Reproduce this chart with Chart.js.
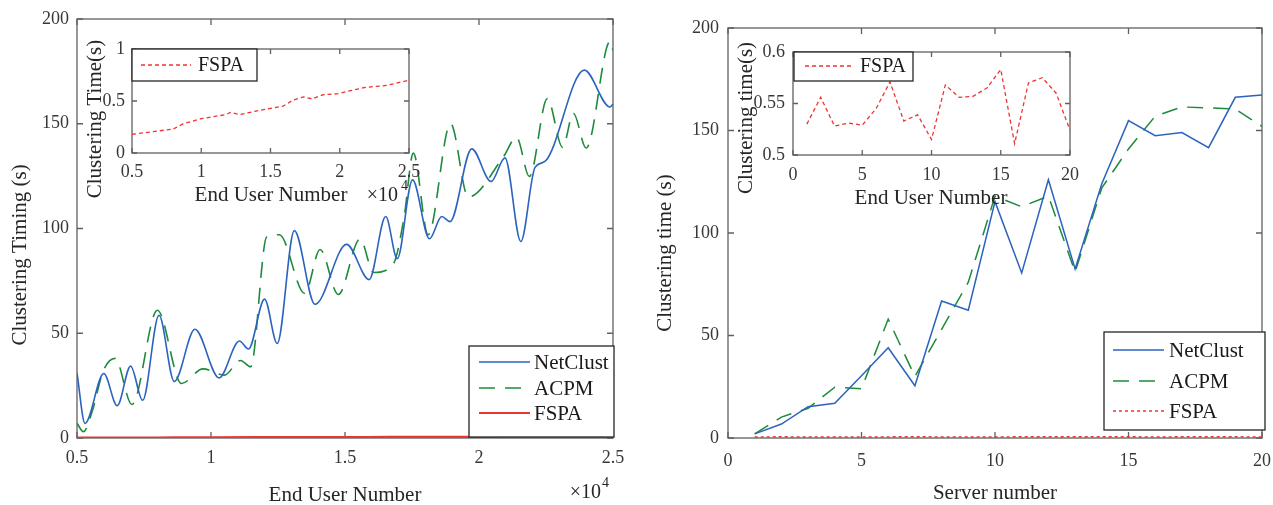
<!DOCTYPE html>
<html>
<head>
<meta charset="utf-8">
<script src="https://cdn.jsdelivr.net/npm/chart.js@4.4.1/dist/chart.umd.min.js"></script>
<style>
  html, body { margin: 0; padding: 0; background: #fff; }
  #wrap { position: relative; width: 1273px; height: 505px; overflow: hidden; }
  canvas { position: absolute; }
</style>
</head>
<body>
<div id="wrap">
  <canvas id="mainL" width="640" height="505" style="left:0px;top:0px"></canvas>
  <canvas id="insetL" width="360" height="190" style="left:70px;top:25px"></canvas>
  <canvas id="mainR" width="660" height="505" style="left:640px;top:0px"></canvas>
  <canvas id="insetR" width="370" height="190" style="left:720px;top:25px"></canvas>
</div>
<script>
// ---- data (left: end users in x10^4, right: servers) ----
const usersNetClust = [0.5, 0.53, 0.60, 0.65, 0.70, 0.745, 0.806, 0.863, 0.94, 1.03, 1.106, 1.14, 1.20, 1.247, 1.311, 1.388, 1.506, 1.59, 1.652, 1.695, 1.752, 1.815, 1.861, 1.892, 1.973, 2.045, 2.097, 2.156, 2.209, 2.246, 2.393, 2.489, 2.5];
const timeNetClust  = [31, 7, 30.8, 15.4, 34.3, 18, 58.6, 27, 51.9, 28.7, 46.3, 42.5, 66.3, 45.1, 99, 63.8, 92.4, 75.6, 105.7, 85.6, 123.2, 95.1, 105.7, 103.3, 138, 122.4, 133.7, 93.8, 129.2, 132, 175.6, 158, 159.4];

const usersACPM = [0.5, 0.524, 0.555, 0.598, 0.642, 0.705, 0.80, 0.89, 0.97, 1.05, 1.11, 1.148, 1.208, 1.255, 1.35, 1.407, 1.475, 1.556, 1.607, 1.68, 1.72, 1.755, 1.81, 1.894, 1.96, 2.09, 2.14, 2.188, 2.255, 2.312, 2.352, 2.40, 2.49, 2.5];
const timeACPM  = [7, 3, 12, 32, 38, 16, 61, 26, 33, 30, 37, 34, 96, 97, 69, 90, 68.5, 95, 79, 83, 105, 136, 97, 150, 115, 134, 143.5, 124.8, 162, 138.7, 155, 138.4, 189.5, 185];

const usersFSPA = [0.5, 0.797, 0.869, 1.0, 1.18, 1.21, 1.28, 1.42, 1.5, 1.59, 1.665, 1.74, 1.8, 1.88, 1.99, 2.08, 2.18, 2.34, 2.5];
const timeFSPA  = [0.18, 0.23, 0.28, 0.33, 0.37, 0.39, 0.37, 0.41, 0.43, 0.45, 0.51, 0.54, 0.52, 0.56, 0.57, 0.60, 0.63, 0.65, 0.70];

const servers    = [1, 2, 3, 4, 5, 6, 7, 8, 9, 10, 11, 12, 13, 14, 15, 16, 17, 18, 19, 20];
const netClustR  = [2, 6.8, 15.3, 16.9, 30.4, 44, 25.5, 66.8, 62.3, 115.3, 80.5, 126, 82.5, 124, 154.8, 147.5, 149, 141.6, 166.2, 167.3];
const acpmR      = [2, 10.2, 14.5, 24.8, 24, 58, 30, 53, 76, 118, 112.8, 118, 81, 122, 141, 157, 161.5, 161, 160.5, 152];
const fspaR      = [0.530, 0.556, 0.528, 0.531, 0.529, 0.545, 0.571, 0.533, 0.539, 0.515, 0.568, 0.556, 0.557, 0.565, 0.583, 0.511, 0.570, 0.575, 0.560, 0.524];

// ---- ticks ----
const userTicks     = [0.5, 1, 1.5, 2, 2.5];
const userTickText  = ['0.5', '1', '1.5', '2', '2.5'];
const serverTicks   = [0, 5, 10, 15, 20];
const serverTickText = ['0', '5', '10', '15', '20'];
const timeTicks     = [0, 50, 100, 150, 200];
const timeTickText  = ['0', '50', '100', '150', '200'];
const insetLTicks   = [0, 0.5, 1];
const insetLText    = ['0', '0.5', '1'];
const insetRTicks   = [0.5, 0.55, 0.6];
const insetRText    = ['0.5', '0.55', '0.6'];

const FONT = '"Liberation Serif", "DejaVu Serif", serif';
const BLUE = '#2b63bf', GREEN = '#1e8a3c', RED = '#ee3333';
Chart.defaults.font.family = FONT;

const pairs = (xs, ys) => xs.map((x, i) => ({ x, y: ys[i] }));

// white plot area + box + inward ticks (MATLAB style)
const framePlugin = {
  id: 'frame',
  beforeDraw(chart, args, o) {
    if (!o.fill) return;
    const a = chart.chartArea, ctx = chart.ctx;
    ctx.save();
    ctx.fillStyle = '#fff';
    ctx.fillRect(a.left, a.top, a.right - a.left, a.bottom - a.top);
    ctx.restore();
  },
  beforeDatasetsDraw(chart, args, o) {
    const a = chart.chartArea, ctx = chart.ctx, len = o.tick || 6;
    const xs = chart.scales.x, ys = chart.scales.y;
    ctx.save();
    ctx.strokeStyle = '#606060';
    ctx.lineWidth = 1.3;
    ctx.strokeRect(a.left, a.top, a.right - a.left, a.bottom - a.top);
    ctx.beginPath();
    xs.ticks.forEach(t => {
      const p = xs.getPixelForValue(t.value);
      ctx.moveTo(p, a.bottom); ctx.lineTo(p, a.bottom - len);
      ctx.moveTo(p, a.top); ctx.lineTo(p, a.top + len);
    });
    ys.ticks.forEach(t => {
      const p = ys.getPixelForValue(t.value);
      ctx.moveTo(a.left, p); ctx.lineTo(a.left + len, p);
      ctx.moveTo(a.right, p); ctx.lineTo(a.right - len, p);
    });
    ctx.stroke();
    ctx.restore();
  }
};

const legendPlugin = {
  id: 'boxLegend',
  afterDatasetsDraw(chart, args, o) {
    if (!o.box) return;
    const ctx = chart.ctx, ox = o.ox, oy = o.oy;
    const [x1, y1, x2, y2] = o.box;
    ctx.save();
    ctx.fillStyle = '#fff';
    ctx.fillRect(x1 - ox, y1 - oy, x2 - x1, y2 - y1);
    ctx.strokeStyle = '#262626';
    ctx.lineWidth = 1.3;
    ctx.strokeRect(x1 - ox, y1 - oy, x2 - x1, y2 - y1);
    chart.data.datasets.forEach((ds, i) => {
      const y = o.rows[i] - oy;
      ctx.beginPath();
      ctx.setLineDash(ds.borderDash || []);
      ctx.strokeStyle = ds.borderColor;
      ctx.lineWidth = ds.borderWidth;
      ctx.moveTo(o.line[0] - ox, y);
      ctx.lineTo(o.line[1] - ox, y);
      ctx.stroke();
      ctx.setLineDash([]);
      ctx.fillStyle = '#1a1a1a';
      ctx.font = (o.size || 21) + 'px ' + FONT;
      ctx.textAlign = 'left';
      ctx.textBaseline = 'middle';
      ctx.fillText(ds.label, o.textX - ox, y + 1);
    });
    ctx.restore();
  }
};

const textPlugin = {
  id: 'texts',
  afterDraw(chart, args, o) {
    const ctx = chart.ctx;
    (o.items || []).forEach(it => {
      ctx.save();
      ctx.font = (it.size || 21) + 'px ' + FONT;
      ctx.fillStyle = it.color || '#262626';
      ctx.textAlign = it.align || 'center';
      ctx.textBaseline = it.base || 'middle';
      ctx.translate(it.x - o.ox, it.y - o.oy);
      if (it.rot) ctx.rotate(-Math.PI / 2);
      ctx.fillText(it.t, 0, 0);
      ctx.restore();
    });
  }
};

function axis(min, max, ticks, text, pad, fit) {
  return {
    type: 'linear', min, max,
    grid: { display: false, drawTicks: false },
    border: { display: false },
    ticks: {
      padding: pad, color: '#383838', font: { size: 18 },
      autoSkip: false, maxRotation: 0,
      callback: (v, i) => text[i]
    },
    afterBuildTicks: s => { s.ticks = ticks.map(v => ({ value: v })); },
    afterFit: fit
  };
}

function makeChart(id, datasets, x, y, padding, plugOpts) {
  return new Chart(document.getElementById(id), {
    type: 'line',
    data: { datasets },
    options: {
      responsive: false,
      animation: false,
      layout: { padding },
      elements: { point: { radius: 0 } },
      scales: { x, y },
      plugins: Object.assign({ legend: { display: false }, tooltip: { enabled: false } }, plugOpts)
    },
    plugins: [framePlugin, legendPlugin, textPlugin]
  });
}

// ---- left main ----
makeChart('mainL', [
  { label: 'NetClust', data: pairs(usersNetClust, timeNetClust), borderColor: BLUE, borderWidth: 1.6, cubicInterpolationMode: 'monotone' },
  { label: 'ACPM', data: pairs(usersACPM, timeACPM), borderColor: GREEN, borderWidth: 1.6, borderDash: [16, 10], cubicInterpolationMode: 'monotone' },
  { label: 'FSPA', data: pairs(usersFSPA, timeFSPA), borderColor: RED, borderWidth: 2.2 }
],
  axis(0.5, 2.5, userTicks, userTickText, 9, s => { s.height = 67; }),
  axis(0, 200, timeTicks, timeTickText, 8, s => { s.width = 77; }),
  { top: 19, right: 27, left: 0, bottom: 0 },
  {
    frame: { tick: 6 },
    boxLegend: { ox: 0, oy: 0, box: [469, 346, 614, 437], rows: [362, 388, 413], line: [479, 530], textX: 534 },
    texts: { ox: 0, oy: 0, items: [
      { t: 'End User Number', x: 345, y: 495 },
      { t: 'Clustering Timing (s)', x: 20, y: 255, rot: true },
      { t: '×10', x: 601, y: 498, align: 'right', base: 'alphabetic', size: 20 },
      { t: '4', x: 602, y: 487, align: 'left', base: 'alphabetic', size: 14 }
    ] }
  });

// ---- left inset ----
makeChart('insetL', [
  { label: 'FSPA', data: pairs(usersFSPA, timeFSPA), borderColor: RED, borderWidth: 1.3, borderDash: [4, 3] }
],
  axis(0.5, 2.5, userTicks, userTickText, 8, s => { s.height = 62; }),
  axis(0, 1, insetLTicks, insetLText, 7, s => { s.width = 62; }),
  { top: 24, right: 21, left: 0, bottom: 0 },
  {
    frame: { fill: true, tick: 5 },
    boxLegend: { ox: 70, oy: 25, box: [132, 49, 257, 81], rows: [65], line: [141, 191], textX: 198, size: 20 },
    texts: { ox: 70, oy: 25, items: [
      { t: 'End User Number', x: 271, y: 195 },
      { t: 'Clustering Time(s)', x: 95, y: 119, rot: true },
      { t: '×10', x: 398, y: 201, align: 'right', base: 'alphabetic', size: 20 },
      { t: '4', x: 401, y: 190, align: 'left', base: 'alphabetic', size: 14 }
    ] }
  });

// ---- right main (canvas runs past the page edge so the x-label overhang fits in the padding) ----
makeChart('mainR', [
  { label: 'NetClust', data: pairs(servers, netClustR), borderColor: BLUE, borderWidth: 1.5 },
  { label: 'ACPM', data: pairs(servers, acpmR), borderColor: GREEN, borderWidth: 1.5, borderDash: [16, 10] },
  { label: 'FSPA', data: pairs(servers, fspaR), borderColor: RED, borderWidth: 1.5, borderDash: [3, 3] }
],
  axis(0, 20, serverTicks, serverTickText, 12, s => { s.height = 67; }),
  axis(0, 200, timeTicks, timeTickText, 9, s => { s.width = 88; }),
  { top: 28, right: 38, left: 0, bottom: 0 },
  {
    frame: { tick: 6 },
    boxLegend: { ox: 640, oy: 0, box: [1104, 332, 1265, 430], rows: [350, 381, 411], line: [1113, 1164], textX: 1169 },
    texts: { ox: 640, oy: 0, items: [
      { t: 'Server number', x: 995, y: 493 },
      { t: 'Clustering time (s)', x: 665, y: 253, rot: true }
    ] }
  });

// ---- right inset ----
makeChart('insetR', [
  { label: 'FSPA', data: pairs(servers, fspaR), borderColor: RED, borderWidth: 1.3, borderDash: [4, 3] }
],
  axis(0, 20, serverTicks, serverTickText, 9, s => { s.height = 60; }),
  axis(0.5, 0.6, insetRTicks, insetRText, 8, s => { s.width = 73; }),
  { top: 27, right: 20, left: 0, bottom: 0 },
  {
    frame: { fill: true, tick: 5 },
    boxLegend: { ox: 720, oy: 25, box: [794, 52, 913, 81], rows: [66], line: [805, 854], textX: 860, size: 20 },
    texts: { ox: 720, oy: 25, items: [
      { t: 'End User Number', x: 931, y: 198 },
      { t: 'Clustering time(s)', x: 746, y: 118, rot: true }
    ] }
  });
</script>
</body>
</html>
